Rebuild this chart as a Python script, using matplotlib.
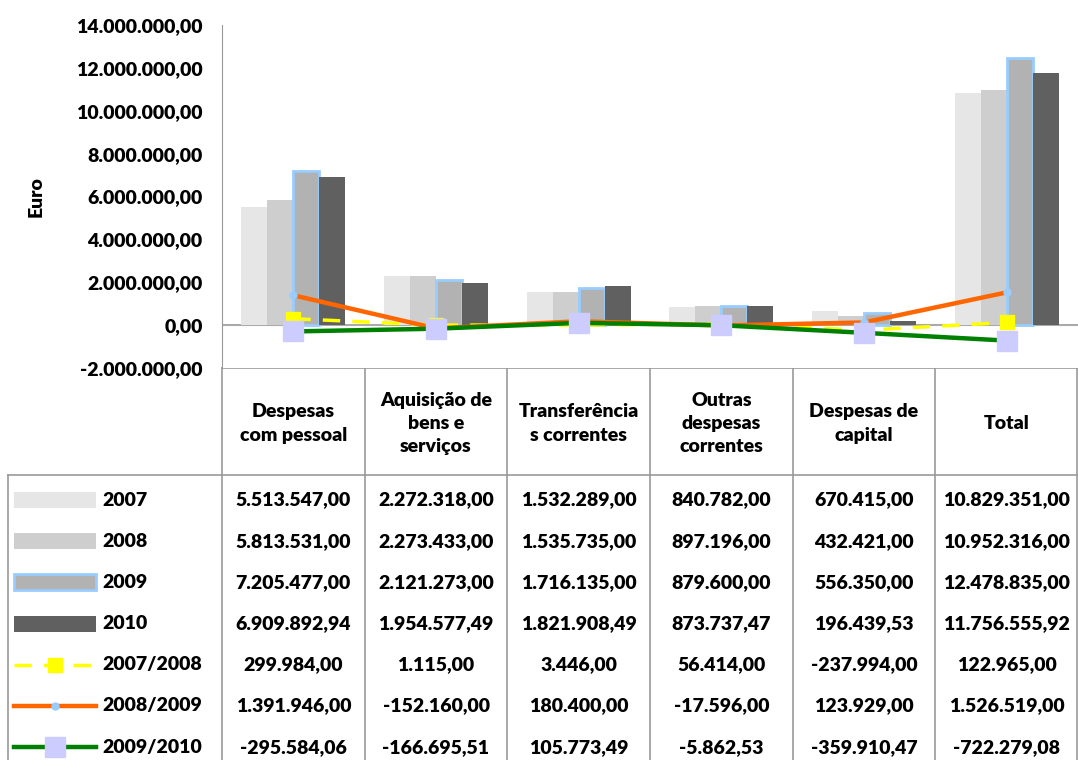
import numpy as np
import matplotlib.pyplot as plt
import matplotlib.patches as mpatches
from matplotlib.lines import Line2D
from matplotlib.ticker import FuncFormatter
from matplotlib import font_manager

plt.rcParams['font.family'] = ['Lato', 'DejaVu Sans']
plt.rcParams['font.weight'] = 'heavy'
PESO = 'heavy'

categorias = ["Despesas\ncom pessoal", "Aquisição de\nbens e\nserviços",
              "Transferência\ns correntes", "Outras\ndespesas\ncorrentes",
              "Despesas de\ncapital", "Total"]

v2007 = [5513547.00, 2272318.00, 1532289.00, 840782.00, 670415.00, 10829351.00]
v2008 = [5813531.00, 2273433.00, 1535735.00, 897196.00, 432421.00, 10952316.00]
v2009 = [7205477.00, 2121273.00, 1716135.00, 879600.00, 556350.00, 12478835.00]
v2010 = [6909892.94, 1954577.49, 1821908.49, 873737.47, 196439.53, 11756555.92]
d0708 = [299984.00, 1115.00, 3446.00, 56414.00, -237994.00, 122965.00]
d0809 = [1391946.00, -152160.00, 180400.00, -17596.00, 123929.00, 1526519.00]
d0910 = [-295584.06, -166695.51, 105773.49, -5862.53, -359910.47, -722279.08]


def fmt_pt(v, pos=None):
    s = f"{v:,.2f}"
    return s.replace(",", "X").replace(".", ",").replace("X", ".")


W, H = 1078, 760
fig = plt.figure(figsize=(W / 100, H / 100), dpi=100)

x0, x1 = 222, 1078
ytop, ybot = 25, 368
ax = fig.add_axes([x0 / W, (H - ybot) / H, (x1 - x0) / W, (ybot - ytop) / H])

x = np.arange(len(categorias))
w = 0.182

barras = [
    ("2007", v2007, dict(color="#E6E6E6")),
    ("2008", v2008, dict(color="#CECECE")),
    ("2009", v2009, dict(color="#B2B2B2", edgecolor="#99CCFF", linewidth=2)),
    ("2010", v2010, dict(color="#606060")),
]
for i, (nome, vals, st) in enumerate(barras):
    ax.bar(x + (i - 1.5) * w, vals, w, zorder=2, **st)

linhas = [
    ("2007/2008", d0708, dict(color="#FFFF00", linestyle=(0, (5, 3.5)), linewidth=2.5,
                              marker="s", markersize=10, markerfacecolor="#FFFF00",
                              markeredgecolor="#FFFF00")),
    ("2008/2009", d0809, dict(color="#FF6600", linewidth=3.2, marker="o", markersize=5,
                              markerfacecolor="#99CCFF", markeredgecolor="#99CCFF")),
    ("2009/2010", d0910, dict(color="#008000", linewidth=3.2, marker="s", markersize=14,
                              markerfacecolor="#CCCCFF", markeredgecolor="#CCCCFF")),
]
for nome, vals, st in linhas:
    ax.plot(x, vals, zorder=3, clip_on=False, **st)

ax.set_xlim(-0.5, len(categorias) - 0.5)
ax.set_ylim(-2000000, 14000000)
ax.set_yticks(np.arange(-2000000, 14000001, 2000000))
ax.yaxis.set_major_formatter(FuncFormatter(fmt_pt))
ax.tick_params(axis="y", length=0, pad=14, labelsize=14)
for lb in ax.get_yticklabels():
    lb.set_fontweight(PESO)
ax.set_xticks([])
for s in ["top", "right", "bottom"]:
    ax.spines[s].set_visible(False)
ax.spines["left"].set_color("#999999")
ax.axhline(0, color="#AAAAAA", linewidth=1.5, zorder=1)
ax.set_ylabel("Euro", fontsize=14, fontweight=PESO)
ax.yaxis.set_label_coords(-(x0 - 45) / (x1 - x0), 0.5)

# tabela de dados
tab = fig.add_axes([0, 0, 1, 1], zorder=-1)
tab.set_xlim(0, W)
tab.set_ylim(H, 0)
tab.axis("off")

colw = (x1 - x0) / len(categorias)
cinza = "#999999"
yhead_bot = 475
tab.plot([x0, x1], [ybot, ybot], color=cinza, lw=1.2)
tab.plot([8, x1], [yhead_bot, yhead_bot], color=cinza, lw=1.2)
tab.plot([8, 8], [yhead_bot, H], color=cinza, lw=1.2)
for i in range(len(categorias) + 1):
    xx = min(x0 + i * colw, x1 - 1)
    tab.plot([xx, xx], [ybot, H], color=cinza, lw=1.2)

for i, c in enumerate(categorias):
    tab.text(x0 + (i + 0.5) * colw, (ybot + yhead_bot) / 2 + 2, c, ha="center",
             va="center", fontsize=14, fontweight=PESO, linespacing=1.45)

series = [(n, v) for n, v, _ in barras] + [(n, v) for n, v, _ in linhas]
row0, rowh = 500, 41.2
for r, (nome, vals) in enumerate(series):
    yy = row0 + r * rowh
    tab.text(102, yy, nome, ha="left", va="center", fontsize=14, fontweight=PESO)
    for i, v in enumerate(vals):
        tab.text(x0 + (i + 0.5) * colw, yy, fmt_pt(v), ha="center", va="center",
                 fontsize=14, fontweight=PESO)

# chaves da legenda
for r, (nome, vals, st) in enumerate(barras):
    yy = row0 + r * rowh
    ec = st.get("edgecolor", st["color"])
    tab.add_patch(mpatches.Rectangle((14, yy - 8), 82, 16, facecolor=st["color"],
                                     edgecolor=ec, linewidth=st.get("linewidth", 0)))
for r, (nome, vals, st) in enumerate(linhas):
    yy = row0 + (r + 4) * rowh
    st2 = {k: v for k, v in st.items() if k not in ("marker", "markersize")}
    tab.add_line(Line2D([14, 96], [yy, yy], **st2))
    tab.add_line(Line2D([55], [yy], marker=st["marker"], markersize=st["markersize"],
                        markerfacecolor=st["markerfacecolor"],
                        markeredgecolor=st["markeredgecolor"], linestyle="none"))

fig.savefig("out.png", dpi=100)
